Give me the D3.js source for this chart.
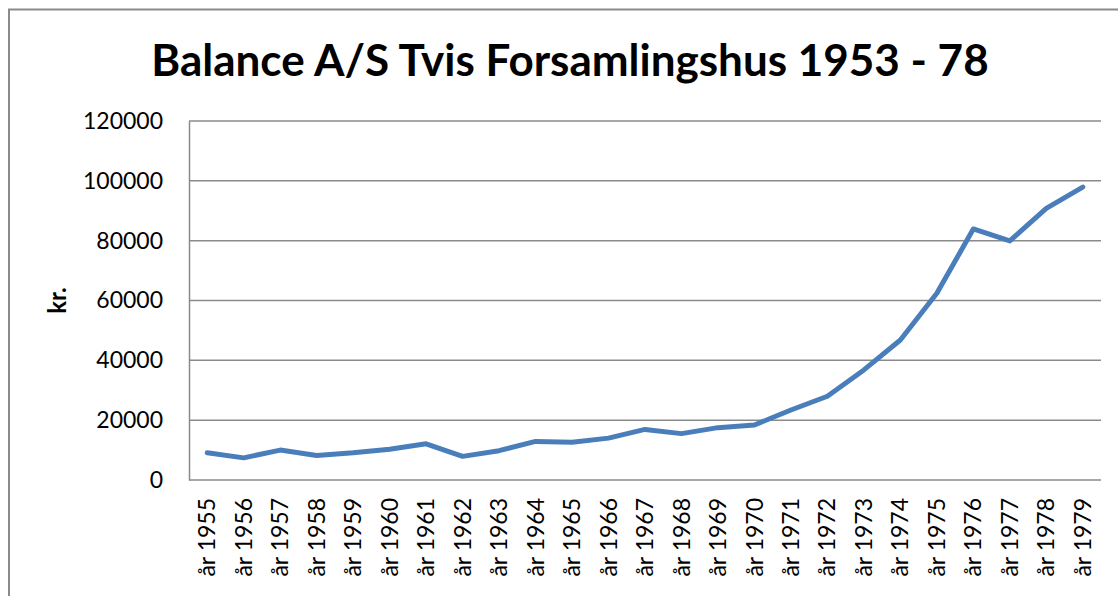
<!DOCTYPE html>
<html>
<head>
<meta charset="utf-8">
<script src="https://cdn.jsdelivr.net/npm/d3@7"></script>
<style>
    html, body { margin: 0; padding: 0; background: #fff; }
    svg { display: block; }
</style>
</head>
<body>
<svg id="chart"></svg>
<script>
// Data
const years = ["år 1955", "år 1956", "år 1957", "år 1958", "år 1959", "år 1960", "år 1961",
    "år 1962", "år 1963", "år 1964", "år 1965", "år 1966", "år 1967", "år 1968", "år 1969",
    "år 1970", "år 1971", "år 1972", "år 1973", "år 1974", "år 1975", "år 1976", "år 1977",
    "år 1978", "år 1979"];
const balance = [9100, 7400, 10000, 8200, 9100, 10300, 12100, 7900, 9800, 12900, 12600,
    14000, 16900, 15500, 17500, 18400, 23400, 28000, 36800, 46800, 62400, 83900, 79900,
    90800, 97900];
const yTicks = [0, 20000, 40000, 60000, 80000, 100000, 120000];

const width = 1118;
const height = 596;
const margin = { top: 121, right: 17, bottom: 116, left: 189 };

const svg = d3.select("#chart")
    .attr("width", width)
    .attr("height", height);

// Chart frame
svg.append("path")
    .attr("d", `M9,${height + 5} V9.5 H${width + 5}`)
    .attr("fill", "none")
    .attr("stroke", "#8a8a8a")
    .attr("stroke-width", 2);

// Title
svg.append("text")
    .attr("x", 570)
    .attr("y", 76)
    .attr("text-anchor", "middle")
    .style("font-family", "Lato, 'Open Sans', sans-serif")
    .style("font-weight", "bold")
    .style("font-size", "44px")
    .attr("fill", "#000")
    .text("Balance A/S Tvis Forsamlingshus 1953 - 78");

// Scales
const xScale = d3.scaleBand()
    .domain(years)
    .range([margin.left, width - margin.right]);

const yScale = d3.scaleLinear()
    .domain([0, 120000])
    .range([height - margin.bottom, margin.top]);

// Gridlines
svg.append("g")
    .selectAll("line")
    .data(yTicks)
    .enter()
    .append("line")
    .attr("x1", margin.left)
    .attr("x2", width - margin.right)
    .attr("y1", (d) => yScale(d))
    .attr("y2", (d) => yScale(d))
    .attr("stroke", "#8a8a8a")
    .attr("stroke-width", 1.5);

// Y axis
const yAxis = svg.append("g")
    .attr("transform", `translate(${margin.left},0)`)
    .call(d3.axisLeft(yScale).tickValues(yTicks).tickSize(0).tickPadding(26).tickFormat(d3.format("d")));
yAxis.select(".domain").attr("stroke", "#8a8a8a").attr("stroke-width", 1.5);
yAxis.selectAll("text")
    .style("font-family", "Lato, 'Open Sans', sans-serif")
    .style("font-size", "23px")
    .attr("fill", "#000");

// X axis
const xAxis = svg.append("g")
    .attr("transform", `translate(0,${height - margin.bottom})`)
    .call(d3.axisBottom(xScale).tickSize(0));
xAxis.select(".domain").remove();
xAxis.selectAll("text")
    .attr("transform", "rotate(-90)")
    .attr("x", -18)
    .attr("y", 0)
    .attr("dy", "0.35em")
    .attr("text-anchor", "end")
    .style("font-family", "Lato, 'Open Sans', sans-serif")
    .style("font-size", "23px")
    .attr("fill", "#000");

// Y axis title
svg.append("text")
    .attr("transform", `translate(66,${yScale(60000)}) rotate(-90)`)
    .attr("text-anchor", "middle")
    .style("font-family", "Lato, 'Open Sans', sans-serif")
    .style("font-weight", "bold")
    .style("font-size", "24px")
    .attr("fill", "#000")
    .text("kr.");

// Line
const line = d3.line()
    .x((d, i) => xScale(years[i]) + xScale.bandwidth() / 2)
    .y((d) => yScale(d));

svg.append("path")
    .datum(balance)
    .attr("d", line)
    .attr("fill", "none")
    .attr("stroke", "#4a7ebb")
    .attr("stroke-width", 5)
    .attr("stroke-linejoin", "round")
    .attr("stroke-linecap", "round");
</script>
</body>
</html>
